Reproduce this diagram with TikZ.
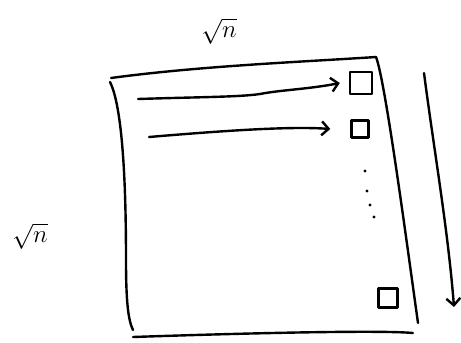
\documentclass[tikz,border=0pt]{standalone}
\usetikzlibrary{arrows.meta}
\begin{document}
\begin{tikzpicture}[x=1pt,y=-1pt,
  pen/.style={line width=2.4pt,line cap=round,line join=round},
  cell/.style={pen,draw,minimum width=#1,minimum height=#1,inner sep=0pt},
  arr/.style={pen,-{Straight Barb[length=7pt,width=14pt,line width=2.4pt]}},
  lbl/.style={font=\fontsize{24}{28}\selectfont,inner sep=0pt}]
\useasboundingbox (0,0) rectangle (461,343);
% square outline
\coordinate (tl) at (111,78);
\coordinate (tr) at (376,57);
\coordinate (br) at (418,323);
\coordinate (bl) at (133,337);
\coordinate (be) at (413,333);
\draw[pen] (110,82) .. controls (124,110) and (126,200) .. (126,260) .. controls (126,300) and (128,320) .. (133,330);
\draw[pen] (tl) .. controls (200,66) and (300,62) .. (tr);
\draw[pen] (tr) .. controls (385,80) and (405,230) .. (br);
\draw[pen] (bl) .. controls (250,333) and (380,330) .. (be);
% cells
\node[cell=22pt] (c1) at (361,83) {};
\node[cell=17pt] (c2) at (360,129) {};
\node[cell=19pt] (c3) at (388,298) {};
% arrows
\coordinate (a1) at (138,99);
\coordinate (a2) at (149,137);
\draw[arr] (a1) .. controls (200,97) and (240,97) .. (260,94) .. controls (280,90) and (310,89) .. ([xshift=-9pt]c1.west);
\draw[arr] (a2) .. controls (220,131) and (290,126) .. ([xshift=-20pt]c2.west);
% dots
\foreach \p in {(365,171),(367,191),(370,205),(374,217)}
  \fill \p circle (1.6pt);
% down arrow
\coordinate (d1) at (424,73);
\coordinate (d2) at (454,307);
\draw[arr] (d1) .. controls (434,150) and (448,230) .. (d2);
% labels
\node[lbl] (top) at (219,31) {$\sqrt{n}$};
\node[lbl] (left) at (30,236) {$\sqrt{n}$};
\end{tikzpicture}
\end{document}
